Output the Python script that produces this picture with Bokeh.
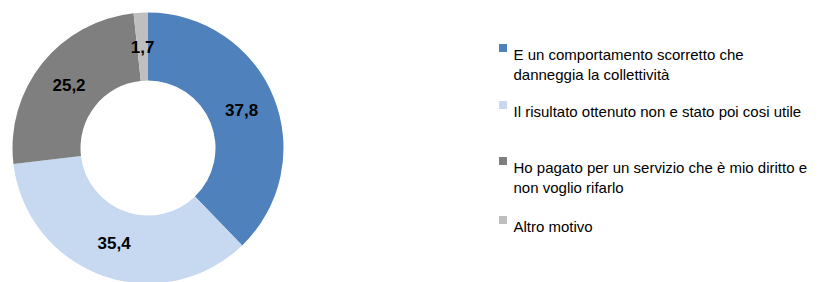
import numpy as np
from bokeh.plotting import figure
from bokeh.models import ColumnDataSource, Range1d
from bokeh.core.properties import value
from bokeh.embed import file_html
from bokeh.resources import INLINE

# ---- data ----
categories = [
    "E un comportamento scorretto che\ndanneggia la collettività",
    "Il risultato ottenuto non e stato poi cosi utile",
    "Ho pagato per un servizio che è mio diritto e\nnon voglio rifarlo",
    "Altro motivo",
]
values = [37.8, 35.4, 25.2, 1.7]
colors = ["#4F81BD", "#C6D9F1", "#7F7F7F", "#BFBFBF"]

# ---- layout ----
W, H = 834, 282
CX, CY = 147.5, 134.5
R_OUT, R_IN, R_LAB = 135.5, 67.5, 101
LEG_SQ_X, LEG_TX_X = 502.5, 513
LEG_BASE = [228, 171, 115, 56]
LINE_H = 20

p = figure(width=W, height=H, x_range=Range1d(0, W), y_range=Range1d(0, H),
           min_border=0, toolbar_location=None, output_backend="svg")
p.axis.visible = False
p.grid.visible = False
p.outline_line_color = None
p.background_fill_color = "white"

vals = np.array(values)
frac = vals / vals.sum()
cum = np.concatenate([[0], np.cumsum(frac)])
start = np.pi / 2 - cum[:-1] * 2 * np.pi
end = np.pi / 2 - cum[1:] * 2 * np.pi
mid = (start + end) / 2

src = ColumnDataSource(dict(
    x=[CX] * len(values), y=[CY] * len(values), start=start, end=end, color=colors,
    lx=CX + R_LAB * np.cos(mid), ly=CY + R_LAB * np.sin(mid),
    lab=[f"{v:.1f}".replace(".", ",") for v in values],
))
p.annular_wedge(x="x", y="y", inner_radius=R_IN, outer_radius=R_OUT,
                inner_radius_units="screen", outer_radius_units="screen",
                start_angle="start", end_angle="end", direction="clock",
                fill_color="color", line_color=None, source=src)
p.text(x="lx", y="ly", text="lab", source=src, text_align="center",
       text_baseline="middle", text_font=value("Liberation Sans"),
       text_font_style="bold", text_font_size="17px", text_color="black")

# legend
sq = ColumnDataSource(dict(x=[LEG_SQ_X] * len(categories),
                           y=[b + 6.5 for b in LEG_BASE], color=colors))
p.rect(x="x", y="y", width=8, height=8, width_units="screen", height_units="screen",
       fill_color="color", line_color=None, source=sq)
tx, ty, tt = [], [], []
for lab, b in zip(categories, LEG_BASE):
    for i, line in enumerate(lab.split("\n")):
        tx.append(LEG_TX_X)
        ty.append(b - i * LINE_H)
        tt.append(line)
p.text(x=tx, y=ty, text=tt, text_align="left", text_baseline="alphabetic",
       text_font=value("Liberation Sans"), text_font_size="15px", text_color="black")

open("out.html", "w").write(file_html(p, INLINE))
